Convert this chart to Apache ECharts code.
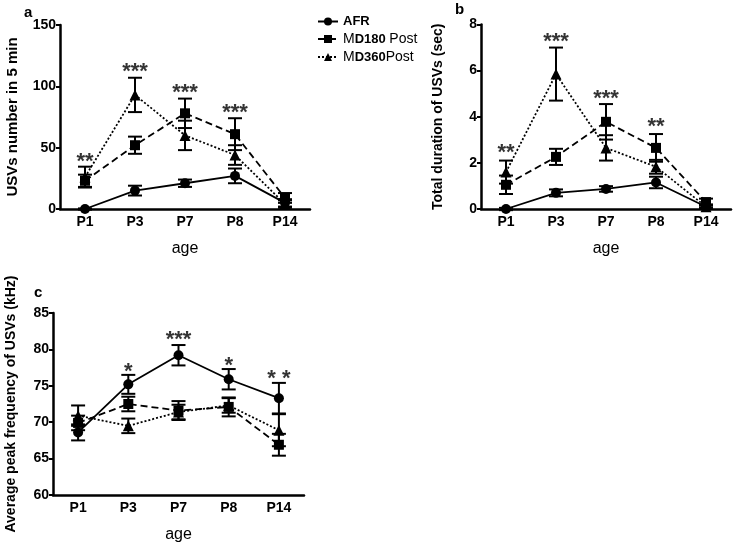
<!DOCTYPE html>
<html><head><meta charset="utf-8">
<script src="https://cdn.jsdelivr.net/npm/echarts@6/dist/echarts.min.js"></script>
<style>html,body{margin:0;padding:0;background:#fff}#c{width:733px;height:544px}</style>
</head><body><div id="c"></div>
<script>
const ages = ['P1', 'P3', 'P7', 'P8', 'P14'];
const seriesNames = ['AFR', 'MD180 Post', 'MD360Post'];

// panel a: USVs number in 5 min
const aAFR = [0, 15, 21, 27, 5];
const aAFRErr = [0.5, 4, 3, 6, 3];
const aMD180 = [23, 52, 78, 61, 9];
const aMD180Err = [5, 7, 12, 13, 4];
const aMD360 = [26, 93, 60, 44, 4];
const aMD360Err = [8.5, 14, 12, 8, 3];
const aStars = ['**', '***', '***', '***', ''];
const aStarPos = [38, 112, 95, 78, null];

// panel b: total duration (sec)
const bAFR = [0, 0.7, 0.87, 1.15, 0.1];
const bAFRErr = [0.05, 0.15, 0.12, 0.25, 0.05];
const bMD180 = [1.05, 2.26, 3.78, 2.65, 0.3];
const bMD180Err = [0.4, 0.35, 0.77, 0.6, 0.15];
const bMD360 = [1.6, 5.85, 2.65, 1.83, 0.1];
const bMD360Err = [0.5, 1.15, 0.55, 0.3, 0.1];
const bStars = ['**', '***', '***', '**', ''];
const bStarPos = [2.42, 7.23, 4.76, 3.55, null];

// panel c: average peak frequency (kHz)
const cAFR = [68.6, 75.2, 79.2, 75.9, 73.3];
const cAFRErr = [1.1, 1.3, 1.4, 1.4, 2.1];
const cMD180 = [69.9, 72.5, 71.6, 72.1, 66.9];
const cMD180Err = [1.0, 1.0, 1.3, 1.3, 1.5];
const cMD360 = [70.9, 69.5, 71.4, 72.3, 68.9];
const cMD360Err = [1.4, 1.0, 1.0, 1.0, 2.2];
const cStars = ['', '*', '***', '*', '* *'];
const cStarPos = [null, 76.9, 81.3, 77.7, 75.9];

const FONT = 'Liberation Sans, Arial, sans-serif';
const styles = [
  {symbol: 'circle', type: 'solid', size: 10},
  {symbol: 'rect', type: [7, 4], size: 10},
  {symbol: 'triangle', type: [2, 2], size: 11}
];

const chart = echarts.init(document.getElementById('c'), null, {renderer: 'canvas'});

function lineSeries(idx, name, data, st) {
  return {
    type: 'line', name: name, xAxisIndex: idx, yAxisIndex: idx, data: data,
    symbol: st.symbol, symbolSize: st.size, showSymbol: true,
    lineStyle: {color: '#000', width: 1.8, type: st.type},
    itemStyle: {color: '#000'}, z: 3, animation: false
  };
}
function errSeries(idx, vals, errs) {
  return {
    type: 'custom', name: 'err', xAxisIndex: idx, yAxisIndex: idx,
    data: vals.map((v, i) => [i, v - errs[i], v + errs[i]]),
    renderItem: function (params, api) {
      const lo = api.coord([api.value(0), api.value(1)]);
      const hi = api.coord([api.value(0), api.value(2)]);
      const w = 7;
      const st = {stroke: '#000', lineWidth: 2};
      return {type: 'group', children: [
        {type: 'line', shape: {x1: hi[0], y1: hi[1], x2: lo[0], y2: lo[1]}, style: st},
        {type: 'line', shape: {x1: hi[0] - w, y1: hi[1], x2: hi[0] + w, y2: hi[1]}, style: st},
        {type: 'line', shape: {x1: lo[0] - w, y1: lo[1], x2: lo[0] + w, y2: lo[1]}, style: st}
      ]};
    },
    z: 2, animation: false, silent: true
  };
}
function starSeries(idx, stars, pos) {
  return {
    type: 'scatter', name: 'stars', xAxisIndex: idx, yAxisIndex: idx,
    symbolSize: 1, itemStyle: {color: 'rgba(0,0,0,0)'},
    data: pos.map((p, i) => ({value: [i, p], label: {formatter: stars[i]}})).filter(d => d.value[1] !== null),
    label: {show: true, position: 'inside', color: '#000', fontSize: 22, fontWeight: 'bold', fontFamily: FONT},
    z: 5, animation: false, silent: true
  };
}
function xAx(idx) {
  return {
    type: 'category', gridIndex: idx, data: ages, boundaryGap: true,
    axisLine: {lineStyle: {color: '#000', width: 2.5}},
    axisTick: {alignWithLabel: true, length: 4, lineStyle: {width: 2, color: '#000'}},
    axisLabel: {color: '#000', fontSize: 14, fontWeight: 'bold', fontFamily: FONT, margin: 6},
    name: 'age', nameLocation: 'middle', nameGap: 32,
    nameTextStyle: {color: '#000', fontSize: 16, fontFamily: FONT}
  };
}
function yAx(idx, min, max, interval, name, gap, fs) {
  return {
    type: 'value', gridIndex: idx, min: min, max: max, interval: interval,
    splitLine: {show: false},
    axisLine: {show: true, lineStyle: {color: '#000', width: 2.5}},
    axisTick: {show: true, length: 4, lineStyle: {width: 2, color: '#000'}},
    axisLabel: {color: '#000', fontSize: 14, fontWeight: 'bold', fontFamily: FONT, margin: 4},
    name: name, nameLocation: 'middle', nameGap: gap,
    nameTextStyle: {color: '#000', fontSize: fs, fontWeight: 'bold', fontFamily: FONT}
  };
}

const aSets = [aAFR, aMD180, aMD360], aErrs = [aAFRErr, aMD180Err, aMD360Err];
const bSets = [bAFR, bMD180, bMD360], bErrs = [bAFRErr, bMD180Err, bMD360Err];
const cSets = [cAFR, cMD180, cMD360], cErrs = [cAFRErr, cMD180Err, cMD360Err];

const series = [];
[[aSets, aErrs], [bSets, bErrs], [cSets, cErrs]].forEach(([sets, errs], idx) => {
  sets.forEach((d, k) => series.push(lineSeries(idx, seriesNames[k], d, styles[k])));
  sets.forEach((d, k) => series.push(errSeries(idx, d, errs[k])));
});
series.push(starSeries(0, aStars, aStarPos));
series.push(starSeries(1, bStars, bStarPos));
series.push(starSeries(2, cStars, cStarPos));

chart.setOption({
  backgroundColor: '#fff',
  animation: false,
  title: [
    {text: 'a', left: 19, top: 0, textStyle: {fontSize: 15, fontWeight: 'bold', fontFamily: FONT, color: '#000'}},
    {text: 'b', left: 450, top: -3, textStyle: {fontSize: 15, fontWeight: 'bold', fontFamily: FONT, color: '#000'}},
    {text: 'c', left: 29, top: 280, textStyle: {fontSize: 15, fontWeight: 'bold', fontFamily: FONT, color: '#000'}}
  ],
  legend: {
    data: seriesNames, orient: 'vertical', left: 312, top: 10, itemGap: 4,
    itemWidth: 20, itemHeight: 10,
    formatter: function (n) {
      if (n === 'AFR') return '{b|AFR}';
      if (n === 'MD180 Post') return '{m|M}{b|D180} {n|Post}';
      return '{m|M}{b|D360}{n|Post}';
    },
    textStyle: {
      color: '#000', fontFamily: FONT, fontSize: 13,
      rich: {
        b: {fontWeight: 'bold', fontSize: 13, fontFamily: FONT, color: '#000'},
        m: {fontSize: 14, fontFamily: FONT, color: '#000'},
        n: {fontSize: 14, fontFamily: FONT, color: '#000'}
      }
    }
  },
  grid: [
    {left: 60, top: 25, width: 250, height: 184},
    {left: 481, top: 24.5, width: 250, height: 184.5},
    {left: 53, top: 313, width: 251, height: 184}
  ],
  xAxis: [xAx(0), xAx(1), xAx(2)],
  yAxis: [
    yAx(0, 0, 150, 50, 'USVs number in 5 min', 40, 15),
    yAx(1, 0, 8, 2, 'Total duration of USVs (sec)', 36, 14),
    yAx(2, 60, 85, 5, 'Average peak frequency of USVs (kHz)', 35, 14)
  ],
  series: series
});
</script></body></html>
